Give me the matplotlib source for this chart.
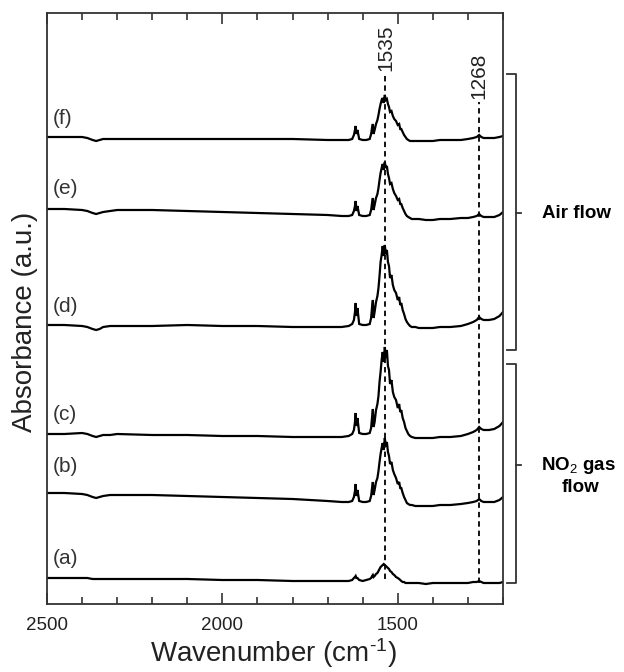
import matplotlib
matplotlib.use("Agg")
import matplotlib.pyplot as plt
from matplotlib.lines import Line2D
from matplotlib.ticker import MultipleLocator, FixedLocator

plt.rcParams["font.family"] = ["Liberation Sans", "DejaVu Sans"]
plt.rcParams["mathtext.fontset"] = "custom"
plt.rcParams["mathtext.rm"] = "Liberation Sans"
plt.rcParams["mathtext.it"] = "Liberation Sans"
plt.rcParams["mathtext.bf"] = "Liberation Sans:bold"

# Wavenumber grid (cm^-1), high to low
wavenumber = [
    2500, 2450, 2400, 2385, 2370, 2360, 2350, 2340, 2320, 2300,
    2200, 2100, 2000, 1900, 1800, 1700, 1660, 1640, 1630, 1625,
    1622, 1620, 1618, 1615, 1610, 1600, 1590, 1580, 1576, 1573,
    1571, 1569, 1566, 1562, 1558, 1555, 1552, 1549, 1546, 1543,
    1540, 1537, 1534, 1531, 1528, 1525, 1522, 1518, 1514, 1510,
    1505, 1500, 1496, 1493, 1490, 1486, 1482, 1478, 1474, 1470,
    1465, 1460, 1450, 1440, 1420, 1400, 1380, 1350, 1320, 1300,
    1285, 1275, 1268, 1262, 1255, 1240, 1225, 1210, 1200,
]

# Absorbance of each spectrum relative to its own starting level (a.u.)
spec_a = [
    0.00, 0.00, 0.00, 0.00, -0.01, -0.01, -0.01, -0.01, -0.01, -0.01,
    -0.01, -0.01, -0.02, -0.02, -0.03, -0.03, -0.03, -0.03, -0.02, 0.00,
    0.01, 0.02, 0.00, 0.00, -0.02, -0.03, -0.02, -0.01, 0.00, 0.02,
    0.03, 0.01, 0.02, 0.04, 0.05, 0.07, 0.09, 0.11, 0.12, 0.13,
    0.14, 0.13, 0.12, 0.11, 0.10, 0.09, 0.07, 0.06, 0.04, 0.03,
    0.01, 0.00, -0.01, -0.02, -0.03, -0.04, -0.04, -0.05, -0.05, -0.05,
    -0.05, -0.05, -0.05, -0.05, -0.06, -0.05, -0.05, -0.05, -0.05, -0.05,
    -0.04, -0.04, -0.03, -0.04, -0.05, -0.05, -0.05, -0.05, -0.04,
]
spec_b = [
    0.00, 0.00, -0.01, -0.02, -0.04, -0.05, -0.04, -0.03, -0.02, -0.02,
    -0.02, -0.03, -0.04, -0.05, -0.06, -0.08, -0.09, -0.09, -0.08, -0.04,
    0.02, 0.09, -0.03, 0.03, -0.08, -0.09, -0.09, -0.08, -0.03, 0.06,
    0.11, -0.02, 0.03, 0.11, 0.15, 0.22, 0.31, 0.39, 0.45, 0.50,
    0.43, 0.55, 0.47, 0.51, 0.41, 0.37, 0.29, 0.31, 0.23, 0.19,
    0.15, 0.09, 0.11, 0.05, 0.05, 0.00, -0.04, -0.07, -0.10, -0.11,
    -0.12, -0.12, -0.13, -0.13, -0.13, -0.13, -0.12, -0.12, -0.11, -0.10,
    -0.09, -0.08, -0.06, -0.08, -0.09, -0.09, -0.09, -0.07, -0.04,
]
spec_c = [
    0.00, 0.00, 0.01, 0.00, -0.02, -0.03, -0.02, -0.01, -0.01, 0.00,
    -0.01, -0.01, -0.02, -0.02, -0.03, -0.03, -0.03, -0.02, 0.00, 0.04,
    0.12, 0.21, 0.08, 0.16, 0.01, 0.00, 0.00, 0.01, 0.06, 0.18,
    0.25, 0.07, 0.12, 0.24, 0.30, 0.38, 0.52, 0.62, 0.74, 0.82,
    0.72, 0.87, 0.76, 0.84, 0.68, 0.64, 0.50, 0.54, 0.42, 0.37,
    0.34, 0.26, 0.30, 0.22, 0.24, 0.16, 0.12, 0.06, 0.03, 0.00,
    -0.02, -0.03, -0.04, -0.04, -0.04, -0.04, -0.03, -0.03, -0.02, 0.00,
    0.02, 0.04, 0.07, 0.05, 0.04, 0.04, 0.05, 0.08, 0.12,
]
spec_d = [
    0.00, 0.00, -0.01, -0.02, -0.04, -0.05, -0.04, -0.02, -0.01, -0.01,
    -0.01, 0.00, -0.01, -0.01, -0.02, -0.02, -0.02, -0.01, 0.01, 0.05,
    0.13, 0.22, 0.09, 0.17, 0.01, 0.00, 0.00, 0.01, 0.07, 0.19,
    0.25, 0.07, 0.13, 0.23, 0.29, 0.37, 0.49, 0.63, 0.70, 0.79,
    0.69, 0.80, 0.71, 0.75, 0.63, 0.59, 0.47, 0.50, 0.40, 0.35,
    0.32, 0.25, 0.28, 0.20, 0.22, 0.15, 0.11, 0.06, 0.03, 0.01,
    -0.01, -0.02, -0.02, -0.03, -0.03, -0.03, -0.02, -0.02, -0.01, 0.01,
    0.03, 0.05, 0.08, 0.06, 0.05, 0.05, 0.06, 0.09, 0.13,
]
spec_e = [
    0.00, 0.00, -0.01, -0.02, -0.04, -0.05, -0.04, -0.03, -0.02, -0.01,
    -0.01, -0.02, -0.03, -0.04, -0.05, -0.06, -0.07, -0.07, -0.06, -0.02,
    0.03, 0.08, -0.02, 0.03, -0.06, -0.07, -0.07, -0.06, -0.01, 0.07,
    0.11, -0.01, 0.04, 0.11, 0.15, 0.21, 0.29, 0.36, 0.41, 0.45,
    0.39, 0.47, 0.41, 0.43, 0.35, 0.31, 0.25, 0.26, 0.20, 0.16,
    0.13, 0.09, 0.10, 0.05, 0.05, 0.01, -0.02, -0.05, -0.07, -0.08,
    -0.09, -0.10, -0.10, -0.10, -0.11, -0.11, -0.10, -0.10, -0.09, -0.09,
    -0.08, -0.07, -0.05, -0.07, -0.08, -0.08, -0.08, -0.06, -0.03,
]
spec_f = [
    0.00, 0.00, 0.00, -0.01, -0.03, -0.04, -0.03, -0.02, -0.02, -0.02,
    -0.02, -0.02, -0.02, -0.02, -0.02, -0.03, -0.03, -0.03, -0.02, 0.02,
    0.07, 0.11, 0.03, 0.07, -0.02, -0.03, -0.03, -0.02, 0.03, 0.10,
    0.13, 0.03, 0.07, 0.13, 0.17, 0.22, 0.28, 0.33, 0.37, 0.39,
    0.34, 0.42, 0.37, 0.38, 0.33, 0.30, 0.25, 0.26, 0.21, 0.18,
    0.16, 0.12, 0.13, 0.08, 0.08, 0.05, 0.02, 0.00, -0.02, -0.03,
    -0.04, -0.04, -0.04, -0.04, -0.04, -0.04, -0.03, -0.03, -0.03, -0.02,
    -0.01, 0.00, 0.02, 0.00, -0.01, -0.01, -0.01, 0.00, 0.01,
]

spectra = [spec_a, spec_b, spec_c, spec_d, spec_e, spec_f]
labels = ["(a)", "(b)", "(c)", "(d)", "(e)", "(f)"]
offsets = [0.26, 1.11, 1.70, 2.79, 3.95, 4.67]
label_y = [0.45, 1.38, 1.89, 2.98, 4.15, 4.86]

marked_bands = [1535, 1268]
band_top = [5.28, 5.02]
band_bottom = [0.25, 0.21]
band_text_y = [5.56, 5.285]

W, H = 624, 672
fig = plt.figure(figsize=(W / 100, H / 100), dpi=100)
ax = fig.add_axes([47 / W, 1 - 604 / H, 456 / W, 591 / H])

for spec, off in zip(spectra, offsets):
    ax.plot(wavenumber, [off + v for v in spec], color="black", lw=1.6,
            solid_joinstyle="miter")

for lab, ly in zip(labels, label_y):
    ax.text(2483, ly, lab, fontsize=15, color="#333333", ha="left", va="center")

for wn, top, bot, ty in zip(marked_bands, band_top, band_bottom, band_text_y):
    ax.plot([wn, wn], [bot, top], color="black", lw=1.3, ls=(0, (3, 2.2)))
    ax.text(wn, ty, str(wn), rotation=90, fontsize=15, color="#222222",
            ha="center", va="center")

ax.set_xlim(2500, 1200)
ax.set_ylim(0, 5.91)
ax.xaxis.set_major_locator(FixedLocator([2500, 2000, 1500]))
ax.xaxis.set_minor_locator(MultipleLocator(100))
ax.tick_params(axis="x", which="both", direction="in", top=True, bottom=True,
               labelsize=13.5, colors="#222222", width=1.1, pad=9)
ax.tick_params(axis="x", which="major", length=8)
ax.tick_params(axis="x", which="minor", length=5)
ax.set_yticks([])
for s in ax.spines.values():
    s.set_linewidth(1.3)
    s.set_color("#333333")

fig.text(273 / W, 1 - 653 / H, r"Wavenumber (cm$^{\text{-1}}$)", fontsize=20,
         color="#222222", ha="center", va="center")
fig.text(25 / W, 1 - 322 / H, "Absorbance (a.u.)", rotation=90, fontsize=20,
         color="#222222", ha="center", va="center")


def bracket(y0, y1, ymid):
    xl, xv, xn = 507 / W, 516 / W, 521 / W
    fy = lambda p: 1 - p / H
    kw = dict(color="#333333", lw=1.3, transform=fig.transFigure)
    fig.add_artist(Line2D([xl, xv, xv, xl], [fy(y0), fy(y0), fy(y1), fy(y1)], **kw))
    fig.add_artist(Line2D([xv, xn], [fy(ymid), fy(ymid)], **kw))


bracket(74, 350, 213)
bracket(364, 583, 465)
fig.text(577 / W, 1 - 213 / H, "Air flow", fontsize=13.5, fontweight="bold",
         ha="center", va="center")
fig.text(578 / W, 1 - 465 / H, r"NO$_2$ gas", fontsize=13.5, fontweight="bold",
         ha="center", va="center")
fig.text(580 / W, 1 - 488 / H, "flow", fontsize=13.5, fontweight="bold",
         ha="center", va="center")

fig.savefig("out.png", dpi=100)
